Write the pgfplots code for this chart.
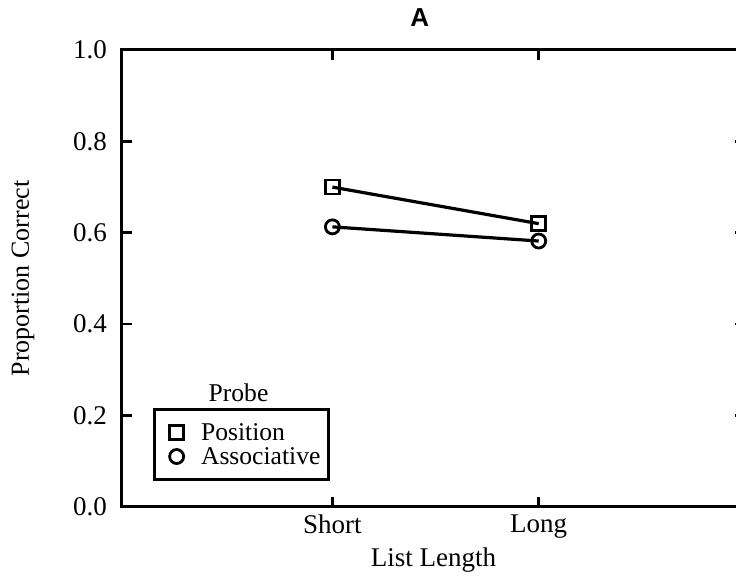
\documentclass[border=0pt]{standalone}
\usepackage{fontspec}
\setmainfont{Liberation Serif}
\newfontfamily\titlefont{Liberation Sans}
\usepackage{pgfplots}
\pgfplotsset{compat=1.18}

\begin{document}
\begin{tikzpicture}
\begin{axis}[
  at={(61pt,36pt)}, anchor=south west,
  scale only axis, width=311.5pt, height=228.5pt,
  xmin=-0.02, xmax=3, ymin=0, ymax=1,
  xtick={1,2}, xticklabels={Short,Long},
  ytick={0,0.2,0.4,0.6,0.8,1.0},
  tick align=inside,
  major tick length=5pt,
  axis line style={line width=1.5pt},
  every tick/.style={line width=1.3pt, black},
  font=\fontsize{13.5}{15}\selectfont,
  /pgf/number format/assume math mode=true,
  yticklabel style={/pgf/number format/.cd, fixed, fixed zerofill, precision=1,
    /tikz/.cd, xshift=-4pt},
  xticklabel style={yshift=-0.5pt},
  xlabel={List Length},
  xlabel style={at={(axis description cs:0.5,0)}, anchor=base, yshift=-30pt},
  ylabel={Proportion Correct},
  ylabel style={at={(axis description cs:-0.159,0.5)}, anchor=center,
    font=\fontsize{13}{15}\selectfont},
  title={\titlefont\bfseries A},
  title style={at={(axis description cs:0.478,1)}, anchor=center, yshift=10pt,
    font=\fontsize{13}{15}\selectfont},
  legend style={at={(axis cs:0.13,0.2166)}, anchor=north west,
    draw=black, line width=1.3pt,
    font=\fontsize{12.8}{13}\selectfont,
    inner xsep=2pt, inner ysep=5.6pt, row sep=0pt,
    nodes={inner xsep=2pt, inner ysep=0pt, text height=10pt, text depth=2pt}},
  legend cell align=left,
  % marker only in the key, with some room on either side of it
  legend image code/.code={%
    \path[draw=none, fill=none] (-9.2pt,0pt) -- (10.2pt,0pt);
    \draw[#1] plot coordinates {(0pt,0pt)};},
]
\addplot[black, line width=1.6pt,
  mark=square, mark size=3.5pt, mark options={fill=white, line width=1.4pt, solid}]
  coordinates {(1,0.70) (2,0.62)};
\addlegendentry{Position}
\addplot[black, line width=1.6pt,
  mark=o, mark size=3.5pt, mark options={fill=white, line width=1.4pt, solid}]
  coordinates {(1,0.613) (2,0.582)};
\addlegendentry{Associative}
\node[font=\fontsize{12.8}{14}\selectfont, anchor=base] at (axis cs:0.545,0.23) {Probe};
\end{axis}
\pgfresetboundingbox
\useasboundingbox (0,0) rectangle (368pt,289.5pt);
\end{tikzpicture}
\end{document}
